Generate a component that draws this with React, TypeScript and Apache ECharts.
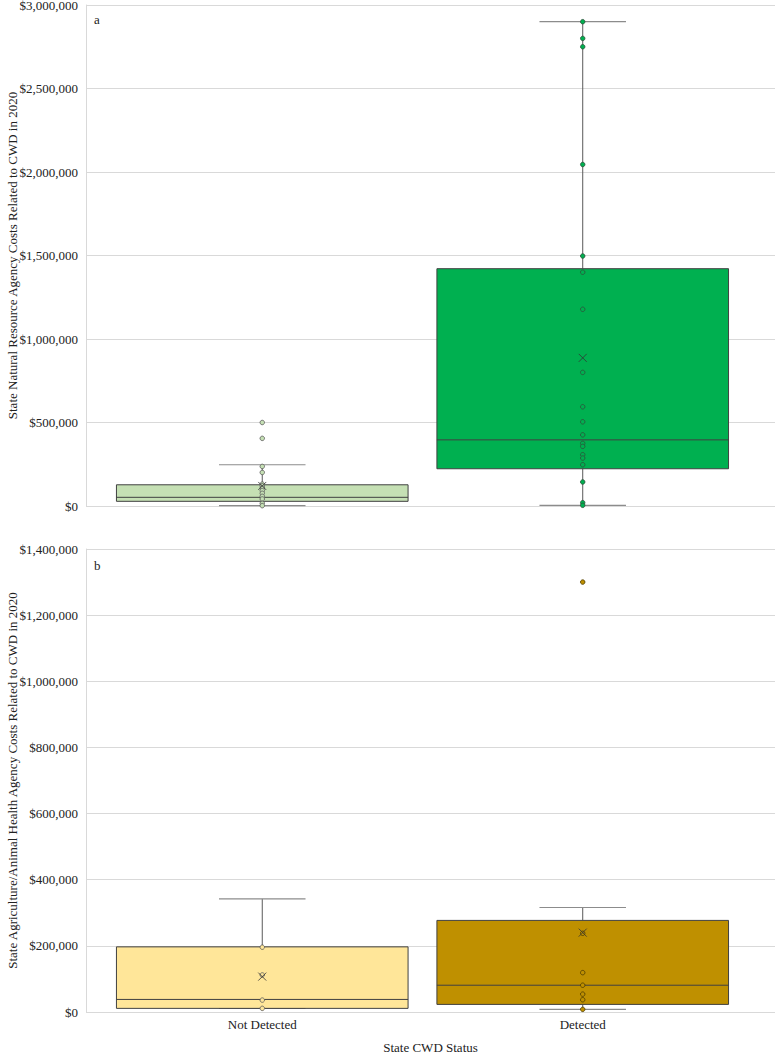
import React, { useEffect, useRef } from "react";
import * as echarts from "echarts";

// ---- Data ----
const categories = ["Not Detected", "Detected"];
const categoryPos = [0, 100];

// Panel a: State Natural Resource Agency costs
const aNotDetectedPoints = [500000, 405000, 237000, 201000, 131000, 121000, 108000, 92000, 76000, 58000, 42000, 16000, 2000];
const aDetectedPoints = [2900000, 2800000, 2750000, 2045000, 1497000, 1400000, 1178000, 800000, 594000, 504000, 426000, 375000, 357000, 307000, 287000, 247000, 144000, 20000, 4000];
// [low whisker, Q1, median, Q3, high whisker]
const aNotDetectedStats = [2000, 28000, 52000, 127000, 247000];
const aDetectedStats = [4000, 223000, 396000, 1421000, 2900000];
const aMeans = [120000, 887000];

// Panel b: State Agriculture/Animal Health Agency costs
const bNotDetectedPoints = [196000, 112000, 36000, 11000];
const bDetectedPoints = [1300000, 238000, 119000, 81000, 54000, 37000, 8000];
const bNotDetectedStats = [11000, 11000, 38000, 197000, 342000];
const bDetectedStats = [8000, 23000, 81000, 277000, 316000];
const bMeans = [107000, 240000];

const aTicks = { min: 0, max: 3000000, interval: 500000 };
const bTicks = { min: 0, max: 1400000, interval: 200000 };

const aTitle = "State Natural Resource Agency Costs Related to CWD in 2020";
const bTitle = "State Agriculture/Animal Health Agency Costs Related to CWD in 2020";

const colors = {
  aND: "#C5E0B4",
  aD: "#00B050",
  bND: "#FFE699",
  bD: "#BF9000",
};

const FONT = "'Liberation Serif', 'Times New Roman', serif";
const BOX_HALF = 45.5;
const CAP_HALF = 13.5;

function money(v: number) {
  return "$" + Math.round(v).toLocaleString("en-US");
}

function boxSeries(gridIdx: number, x: number, stats: number[], color: string) {
  return {
    type: "custom",
    xAxisIndex: gridIdx,
    yAxisIndex: gridIdx,
    z: 1,
    data: [[x, ...stats]],
    encode: { x: 0, y: [1, 2, 3, 4, 5] },
    renderItem: (params: any, api: any) => {
      const cx = api.value(0);
      const low = api.value(1), q1 = api.value(2), med = api.value(3), q3 = api.value(4), high = api.value(5);
      const tl = api.coord([cx - BOX_HALF, q3]);
      const br = api.coord([cx + BOX_HALF, q1]);
      const mL = api.coord([cx - BOX_HALF, med]);
      const mR = api.coord([cx + BOX_HALF, med]);
      const pHigh = api.coord([cx, high]);
      const pQ3 = api.coord([cx, q3]);
      const pQ1 = api.coord([cx, q1]);
      const pLow = api.coord([cx, low]);
      const cHL = api.coord([cx - CAP_HALF, high]);
      const cHR = api.coord([cx + CAP_HALF, high]);
      const cLL = api.coord([cx - CAP_HALF, low]);
      const cLR = api.coord([cx + CAP_HALF, low]);
      const whisk = { stroke: "#595959", lineWidth: 1 };
      const cap = { stroke: "#8C8C8C", lineWidth: 1.2 };
      return {
        type: "group",
        children: [
          { type: "line", shape: { x1: pHigh[0], y1: pHigh[1], x2: pQ3[0], y2: pQ3[1] }, style: whisk },
          { type: "line", shape: { x1: pQ1[0], y1: pQ1[1], x2: pLow[0], y2: pLow[1] }, style: whisk },
          { type: "line", shape: { x1: cHL[0], y1: cHL[1], x2: cHR[0], y2: cHR[1] }, style: cap },
          { type: "line", shape: { x1: cLL[0], y1: cLL[1], x2: cLR[0], y2: cLR[1] }, style: cap },
          {
            type: "rect",
            shape: { x: tl[0], y: tl[1], width: br[0] - tl[0], height: br[1] - tl[1] },
            style: { fill: color, stroke: "#404040", lineWidth: 1 },
          },
          { type: "line", shape: { x1: mL[0], y1: mL[1], x2: mR[0], y2: mR[1] }, style: { stroke: "#404040", lineWidth: 1 } },
        ],
      };
    },
  };
}

function pointSeries(gridIdx: number, x: number, values: number[], color: string, border: string) {
  return {
    type: "scatter",
    xAxisIndex: gridIdx,
    yAxisIndex: gridIdx,
    z: 3,
    symbol: "circle",
    symbolSize: 4.5,
    itemStyle: { color, borderColor: border, borderWidth: 0.8, opacity: 1 },
    data: values.map((v) => [x, v]),
  };
}

function meanSeries(gridIdx: number, means: number[]) {
  return {
    type: "scatter",
    xAxisIndex: gridIdx,
    yAxisIndex: gridIdx,
    z: 4,
    symbol: "path://M0 0L10 10M10 0L0 10",
    symbolSize: 8,
    itemStyle: { color: "rgba(0,0,0,0)", borderColor: "#333333", borderWidth: 1 },
    data: means.map((v, i) => [categoryPos[i], v]),
  };
}

function xAxis(gridIdx: number, showLabels: boolean) {
  return {
    type: "value",
    gridIndex: gridIdx,
    min: -55,
    max: 160,
    interval: 5,
    splitLine: { show: false },
    axisLine: { show: false },
    axisTick: { show: false },
    axisLabel: {
      show: showLabels,
      customValues: categoryPos,
      formatter: (v: number) => categories[categoryPos.indexOf(Math.round(v))] ?? "",
      fontFamily: FONT,
      fontSize: 13,
      color: "#222",
      margin: 6,
    },
    name: showLabels ? "State CWD Status" : "",
    nameLocation: "middle",
    nameGap: 29,
    nameTextStyle: { fontFamily: FONT, fontSize: 13, color: "#222" },
  };
}

function yAxis(gridIdx: number, ticks: { min: number; max: number; interval: number }) {
  return {
    type: "value",
    gridIndex: gridIdx,
    min: ticks.min,
    max: ticks.max,
    interval: ticks.interval,
    axisLine: { show: true, onZero: false, lineStyle: { color: "#D9D9D9" } },
    axisTick: { show: false },
    splitLine: { show: true, lineStyle: { color: "#D9D9D9", width: 1 } },
    axisLabel: { formatter: money, fontFamily: FONT, fontSize: 13, color: "#222", margin: 8 },
  };
}

export default function App() {
  const ref = useRef<HTMLDivElement>(null);
  useEffect(() => {
    if (!ref.current) return;
    const chart = echarts.init(ref.current, null, { renderer: "svg" });
    chart.setOption({
      animation: false,
      backgroundColor: "#ffffff",
      grid: [
        { left: 86, top: 5, width: 689, height: 501, containLabel: false, outerBoundsMode: "none" },
        { left: 86, top: 549, width: 689, height: 463, containLabel: false, outerBoundsMode: "none" },
      ],
      xAxis: [xAxis(0, false), xAxis(1, true)],
      yAxis: [yAxis(0, aTicks), yAxis(1, bTicks)],
      graphic: [
        { type: "text", z: 100, x: 94, y: 13, style: { text: "a", font: `13px ${FONT}`, fill: "#222" } },
        { type: "text", z: 100, x: 94, y: 559, style: { text: "b", font: `13px ${FONT}`, fill: "#222" } },
        {
          type: "text", z: 100, x: 12, y: 255.5, rotation: Math.PI / 2,
          style: { text: aTitle, font: `13px ${FONT}`, fill: "#222", align: "center", verticalAlign: "middle" },
        },
        {
          type: "text", z: 100, x: 12, y: 780.5, rotation: Math.PI / 2,
          style: { text: bTitle, font: `13px ${FONT}`, fill: "#222", align: "center", verticalAlign: "middle" },
        },
      ],
      series: [
        boxSeries(0, categoryPos[0], aNotDetectedStats, colors.aND),
        boxSeries(0, categoryPos[1], aDetectedStats, colors.aD),
        boxSeries(1, categoryPos[0], bNotDetectedStats, colors.bND),
        boxSeries(1, categoryPos[1], bDetectedStats, colors.bD),
        pointSeries(0, categoryPos[0], aNotDetectedPoints, colors.aND, "#595959"),
        pointSeries(0, categoryPos[1], aDetectedPoints, colors.aD, "#2F4F3A"),
        pointSeries(1, categoryPos[0], bNotDetectedPoints, colors.bND, "#595959"),
        pointSeries(1, categoryPos[1], bDetectedPoints, colors.bD, "#4A3A00"),
        meanSeries(0, aMeans),
        meanSeries(1, bMeans),
      ],
    });
    return () => chart.dispose();
  }, []);
  return (
    <div
      ref={ref}
      style={{ position: "absolute", left: 0, top: 0, width: 779, height: 1055 }}
    />
  );
}
